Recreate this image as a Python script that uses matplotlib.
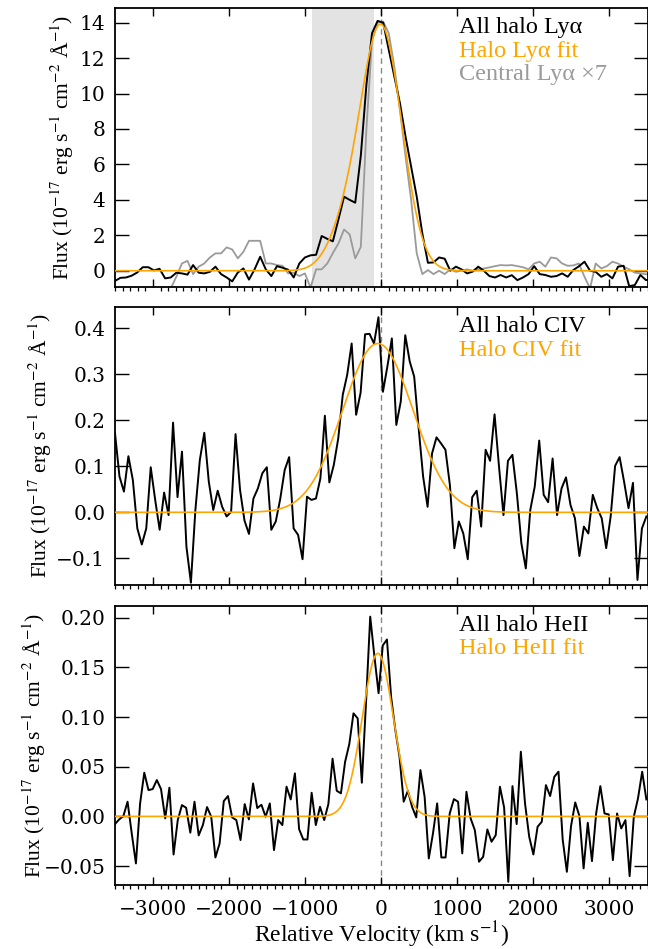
import numpy as np
import matplotlib
matplotlib.use("Agg")
import matplotlib.pyplot as plt
from matplotlib.ticker import MultipleLocator

plt.rcParams["font.family"] = ["Liberation Serif", "DejaVu Serif"]
plt.rcParams["mathtext.fontset"] = "stix"

W, H = 648, 949

# ---------------- data ----------------
# Ly-alpha spectra (velocity grid: start + step * index, km/s)
lya_v0, lya_dv = -3502.5, 73.5
lya_all = [
    -0.58, -0.40, -0.38, -0.28, -0.10, 0.20, 0.20, 0.02, 0.11, -0.43,
    -0.38, -0.11, -0.15, -0.22, 0.32, -0.11, -0.15, -0.06, 0.23, -0.19,
    -0.38, -0.60, -0.10, 0.13, -0.50, 0.08, 0.79, 0.08, -0.30, 0.26,
    0.17, 0.06, -0.38, 0.41, 0.75, 0.87, 0.90, 1.96, 1.80, 1.66,
    2.90, 4.18, 4.00, 3.84, 6.50, 10.50, 13.40, 14.10, 14.00, 12.46,
    10.95, 9.45, 7.56, 5.87, 4.18, 2.10, 0.45, 0.47, 0.75, 0.68,
    0.00, 0.23, 0.08, -0.15, -0.05, 0.23, 0.00, -0.30, -0.38, -0.24,
    -0.38, -0.25, -0.53, -0.38, -0.19, 0.26, -0.19, -0.24, -0.34, -0.30,
    -0.15, -0.34, 0.04, 0.25, 0.51, 0.00, -0.06, -0.34, -0.19, -0.43,
    0.23, 0.28, -0.87, -0.81, -0.24, -0.53, -0.45,
]
lya_central = [
    -1.6, -1.8, -1.5, -2.0, -1.7, -1.4, -1.9, -1.5, -1.3, -1.2,
    -1.0, -0.34, 0.41, 0.56, -0.19, 0.23, 0.41, 0.75, 0.98, 0.98,
    1.32, 1.20, 0.70, 1.07, 1.69, 1.69, 1.69, 0.41, 0.41, 0.32,
    0.28, -0.15, -0.11, -0.30, -0.15, -0.95, 0.08, 0.08, 0.41, 1.00,
    1.54, 2.33, 2.05, 0.70, 1.35, 8.00, 13.00, 14.00, 14.06, 13.40,
    11.50, 9.07, 6.44, 3.99, 0.98, -0.19, 0.04, -0.19, 0.00, -0.19,
    0.08, -0.06, 0.00, 0.08, 0.00, 0.08, 0.13, 0.19, 0.26, 0.32,
    0.30, 0.32, 0.26, 0.20, 0.08, 0.41, 0.51, 0.23, 0.75, 0.70,
    0.41, 0.28, 0.30, 0.41, -0.34, -1.00, 0.41, 0.13, 0.26, 0.51,
    0.41, 0.23, 0.08, -0.11, -0.15, -0.20, -0.20,
]
# Ly-alpha fit: main component + blue component (amplitude, centre, sigma)
lya_fit_main = (13.7, 0.0, 270.0)
lya_fit_blue = (1.8, -480.0, 230.0)

# C IV spectrum
civ_v0, civ_dv = -3500.0, 58.7
civ_all = [
    0.172, 0.078, 0.045, 0.122, 0.070, -0.035, -0.070, -0.035, 0.098, 0.027,
    -0.038, 0.043, -0.006, 0.195, 0.033, 0.132, -0.075, -0.153, 0.005, 0.114,
    0.173, 0.067, 0.005, 0.047, 0.012, -0.009, 0.001, 0.170, 0.049, -0.018,
    -0.047, 0.030, 0.052, 0.085, 0.098, -0.038, -0.020, 0.029, 0.092, 0.120,
    -0.035, -0.049, -0.102, 0.034, 0.027, 0.030, 0.074, 0.210, 0.065, 0.103,
    0.161, 0.255, 0.299, 0.367, 0.212, 0.260, 0.387, 0.388, 0.367, 0.424,
    0.262, 0.317, 0.378, 0.190, 0.241, 0.385, 0.328, 0.295, 0.183, 0.078,
    0.012, 0.128, 0.163, 0.150, 0.136, 0.059, -0.078, -0.020, -0.046, -0.102,
    0.033, 0.047, -0.031, 0.136, 0.112, 0.213, 0.099, -0.006, 0.112, 0.125,
    0.041, -0.067, -0.122, 0.005, 0.056, 0.156, 0.038, 0.022, 0.117, -0.006,
    0.052, 0.076, 0.016, -0.013, -0.095, -0.031, -0.046, 0.038, 0.009, -0.013,
    -0.078, -0.009, 0.101, 0.120, 0.067, 0.009, 0.064, -0.147, -0.035, -0.009,
]
civ_fit = (0.367, -45.0, 462.0)

# He II spectrum
heii_v0, heii_dv = -3500.0, 55.0
heii_all = [
    -0.0077, -0.0030, 0.0003, 0.0148, -0.0171, -0.0473, 0.0131, 0.0440, 0.0265, 0.0275,
    0.0366, 0.0275, -0.0020, 0.0289, -0.0383, -0.0037, 0.0114, 0.0087, -0.0164, 0.0148,
    -0.0191, -0.0087, 0.0094, -0.0003, -0.0413, -0.0272, 0.0154, 0.0205, -0.0010, -0.0037,
    -0.0238, 0.0124, -0.0030, 0.0332, 0.0084, 0.0117, -0.0003, 0.0131, -0.0339, -0.0037,
    -0.0087, 0.0299, 0.0171, 0.0433, -0.0128, -0.0232, -0.0232, 0.0238, -0.0087, 0.0097,
    -0.0037, 0.0124, 0.0581, 0.0258, 0.0232, 0.0550, 0.0728, 0.1037, 0.0987, 0.0339,
    0.1150, 0.2010, 0.1610, 0.1240, 0.1720, 0.1780, 0.1200, 0.0870, 0.0600, 0.0148,
    0.0258, 0.0097, -0.0010, 0.0466, 0.0198, -0.0423, -0.0171, 0.0131, -0.0413, -0.0413,
    0.0030, 0.0174, 0.0148, -0.0372, 0.0248, -0.0020, -0.0138, -0.0456, -0.0406, -0.0131,
    -0.0255, -0.0188, 0.0299, 0.0091, -0.0658, 0.0305, -0.0077, 0.0651, 0.0131, -0.0205,
    -0.0383, -0.0104, -0.0054, 0.0315, 0.0205, 0.0399, 0.0450, -0.0232, -0.0557, -0.0097,
    0.0141, 0.0003, -0.0523, -0.0064, -0.0450, 0.0030, 0.0305, 0.0030, 0.0020, -0.0440,
    0.0030, -0.0121, -0.0037, -0.0601, -0.0003, 0.0181, 0.0450, 0.0171,
]
heii_fit = (0.164, -45.0, 205.0)

# excluded (shaded) velocity window in the Ly-alpha panel
shade_range = (-910.0, -100.0)

x_range = (-3500, 3500)
x_ticks = [-3000, -2000, -1000, 0, 1000, 2000, 3000]
lya_yticks = [0, 2, 4, 6, 8, 10, 12, 14]
civ_yticks = [-0.1, 0.0, 0.1, 0.2, 0.3, 0.4]
heii_yticks = [-0.05, 0.00, 0.05, 0.10, 0.15, 0.20]

ORANGE = "#FFA500"
GREY = "#9a9a9a"


def grid(v0, dv, vals):
    return v0 + dv * np.arange(len(vals))


def gauss(v, p):
    a, c, s = p
    return a * np.exp(-0.5 * ((v - c) / s) ** 2)


fig = plt.figure(figsize=(W / 100, H / 100), dpi=100)

# panel boxes in pixels: (top, bottom); shared left/right edges
LEFT, RIGHT = 115.0, 647.5
boxes = [(8.3, 286.7), (306.7, 585.0), (605.7, 885.0)]
axes = [fig.add_axes([LEFT / W, 1 - b / H, (RIGHT - LEFT) / W, (b - t) / H]) for t, b in boxes]

ylims = [(-0.90, 14.81), (-0.158, 0.447), (-0.069, 0.212)]
yticks = [lya_yticks, civ_yticks, heii_yticks]
yfmt = ["{:.0f}", "{:.1f}", "{:.2f}"]
TICKFONT = dict(family="DejaVu Serif", fontsize=14.5)


def minus(s):
    return s.replace("-", "\u2212")


vfine = np.linspace(-3600, 3600, 1500)

for i, ax in enumerate(axes):
    ax.set_xlim(*x_range)
    ax.set_ylim(*ylims[i])
    ax.set_xticks(x_ticks)
    ax.xaxis.set_minor_locator(MultipleLocator(100))
    ax.set_yticks(yticks[i])
    ax.set_yticklabels([minus(yfmt[i].format(t)) for t in yticks[i]], **TICKFONT)
    ax.tick_params(direction="in", top=True, right=True, width=1.0, colors="black")
    ax.tick_params(axis="x", which="major", length=6)
    ax.tick_params(axis="x", which="minor", length=3, width=0.9)
    ax.tick_params(axis="y", which="major", length=10, pad=7)
    for sp in ax.spines.values():
        sp.set_linewidth(1.3)
    ax.axvline(0, color="#888888", lw=1.0, ls=(0, (4, 3)), zorder=1)
    if i < 2:
        ax.set_xticklabels([])
    else:
        ax.set_xticklabels([minus(f"{t:d}") for t in x_ticks], **TICKFONT)
        ax.tick_params(axis="x", which="major", pad=11)

# Ly-alpha panel
ax = axes[0]
ax.axvspan(*shade_range, color="#e3e3e3", lw=0, zorder=0)
ax.plot(grid(lya_v0, lya_dv, lya_central), lya_central, color=GREY, lw=1.3, zorder=2)
ax.plot(grid(lya_v0, lya_dv, lya_all), lya_all, color="black", lw=1.4, zorder=3)
ax.plot(vfine, gauss(vfine, lya_fit_main) + gauss(vfine, lya_fit_blue), color=ORANGE, lw=1.2, zorder=4)

# C IV panel
ax = axes[1]
ax.plot(grid(civ_v0, civ_dv, civ_all), civ_all, color="black", lw=1.4, zorder=3)
ax.plot(vfine, gauss(vfine, civ_fit), color=ORANGE, lw=1.2, zorder=4)

# He II panel
ax = axes[2]
ax.plot(grid(heii_v0, heii_dv, heii_all), heii_all, color="black", lw=1.4, zorder=3)
ax.plot(vfine, gauss(vfine, heii_fit), color=ORANGE, lw=1.2, zorder=4)

# in-panel labels (text, colour, baseline in pixels from top)
LEG = 17.5
legend_rows = [
    [("All halo Ly\u03b1", "black", 33), ("Halo Ly\u03b1 fit", ORANGE, 56.5),
     ("Central Ly\u03b1 \u00d77", GREY, 80)],
    [("All halo CIV", "black", 332), ("Halo CIV fit", ORANGE, 355.5)],
    [("All halo HeII", "black", 631), ("Halo HeII fit", ORANGE, 654.5)],
]
for rows in legend_rows:
    for txt, col, yb in rows:
        fig.text(459 / W, 1 - yb / H, txt, color=col, fontsize=LEG, ha="left", va="baseline")

# y labels, placed left of each panel's tick labels
ylab = "Flux (10$^{-17}$ erg s$^{-1}$ cm$^{-2}$ \u00c5$^{-1}$)"
ylab_x = [62, 40, 34]
for (top, bot), xc in zip(boxes, ylab_x):
    fig.text(xc / W, 1 - (top + bot) / 2 / H, ylab, rotation=90, ha="center", va="center", fontsize=15.5)

# x label
fig.text(381 / W, 1 - 935 / H, "Relative Velocity (km s$^{-1}$)", ha="center", va="center", fontsize=17)

fig.savefig("out.png", dpi=100)
